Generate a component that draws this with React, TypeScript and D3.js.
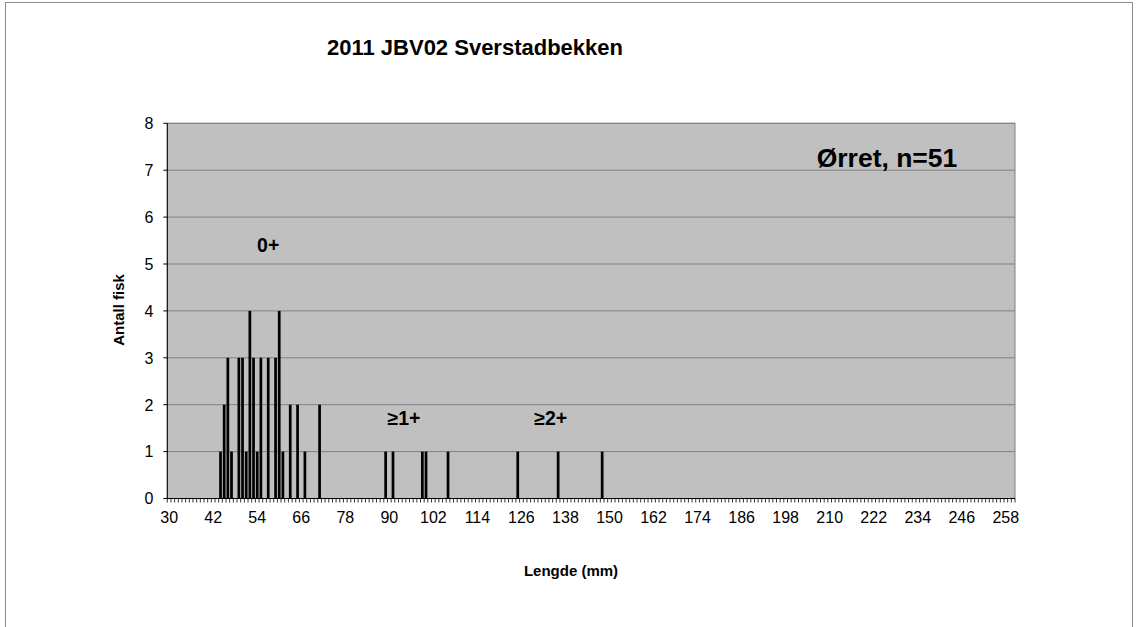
import React from "react";
import * as d3 from "d3";

const title = "2011 JBV02 Sverstadbekken";
const speciesLabel = "Ørret, n=51";
const yTitle = "Antall fisk";
const xTitle = "Lengde (mm)";
const lengths = [44, 45, 46, 47, 49, 50, 51, 52, 53, 54, 55, 57, 59, 60, 61, 63, 65, 67, 71, 89, 91, 99, 100, 106, 125, 136, 148];
const counts = [1, 2, 3, 1, 3, 3, 1, 4, 3, 1, 3, 3, 3, 4, 1, 2, 2, 1, 2, 1, 1, 1, 1, 1, 1, 1, 1];
const minLen = 30;
const maxLen = 260;
const yTicks = [0, 1, 2, 3, 4, 5, 6, 7, 8];
const ageLabels = [
  { text: "0+", at: 57, y: 5.4 },
  { text: "≥1+", at: 94, y: 1.72 },
  { text: "≥2+", at: 134, y: 1.72 },
];

const W = 1137;
const H = 627;
const left = 167.3;
const right = 1015;
const top = 123.3;
const bottom = 498.5;
const font = "'Liberation Sans', Arial, sans-serif";

export default function App() {
  const categories = d3.range(minLen, maxLen + 1);
  const x = d3.scaleBand<number>().domain(categories).range([left, right]).padding(0);
  const y = d3.scaleLinear().domain([0, 8]).range([bottom, top]);
  const bw = x.bandwidth();
  const barW = bw * 0.74;
  const labelCats = categories.filter((c) => (c - minLen) % 12 === 0);

  return (
    <svg
      width={W}
      height={H}
      style={{ position: "absolute", left: 0, top: 0, display: "block", background: "#fff" }}
      fontFamily={font}
    >
      <rect x={5.5} y={2.5} width={1127} height={700} fill="#fff" stroke="#8c8c8c" strokeWidth={1} />
      <text x={475} y={55} textAnchor="middle" fontSize={22} fontWeight="bold">
        {title}
      </text>
      <rect x={left} y={top} width={right - left} height={bottom - top} fill="#C0C0C0" stroke="#808080" strokeWidth={1} />
      {yTicks.slice(1).map((t) => (
        <line key={"g" + t} x1={left} x2={right} y1={y(t)} y2={y(t)} stroke="#808080" strokeWidth={1} />
      ))}
      {lengths.map((l, i) => (
        <rect
          key={"b" + l}
          x={(x(l) as number) + (bw - barW) / 2}
          y={y(counts[i])}
          width={barW}
          height={y(0) - y(counts[i])}
          fill="#000"
        />
      ))}
      <line x1={left} x2={left} y1={top} y2={bottom} stroke="#000" strokeWidth={1} />
      <line x1={left} x2={right} y1={bottom} y2={bottom} stroke="#000" strokeWidth={1} />
      {yTicks.map((t) => (
        <g key={"yt" + t}>
          <line x1={left - 4} x2={left} y1={y(t)} y2={y(t)} stroke="#000" strokeWidth={1} />
          <text x={left - 14} y={y(t) + 5.8} textAnchor="end" fontSize={16}>
            {t}
          </text>
        </g>
      ))}
      {categories.concat([maxLen + 1]).map((c, i) => {
        const xx = left + i * bw;
        return <line key={"xt" + c} x1={xx} x2={xx} y1={bottom} y2={bottom + 4} stroke="#000" strokeWidth={0.8} />;
      })}
      {labelCats.map((c) => (
        <text key={"xl" + c} x={(x(c) as number) + bw / 2} y={bottom + 24.5} textAnchor="middle" fontSize={16}>
          {c}
        </text>
      ))}
      <text x={571} y={576} textAnchor="middle" fontSize={15} fontWeight="bold">
        {xTitle}
      </text>
      <text
        transform={`translate(123.5, 310) rotate(-90)`}
        textAnchor="middle"
        fontSize={15}
        fontWeight="bold"
      >
        {yTitle}
      </text>
      <text x={887} y={167} textAnchor="middle" fontSize={26.5} fontWeight="bold">
        {speciesLabel}
      </text>
      {ageLabels.map((a) => (
        <text
          key={a.text}
          x={(x(a.at) as number) + bw / 2}
          y={y(a.y) + 6.8}
          textAnchor="middle"
          fontSize={19.5}
          fontWeight="bold"
        >
          {a.text}
        </text>
      ))}
    </svg>
  );
}
